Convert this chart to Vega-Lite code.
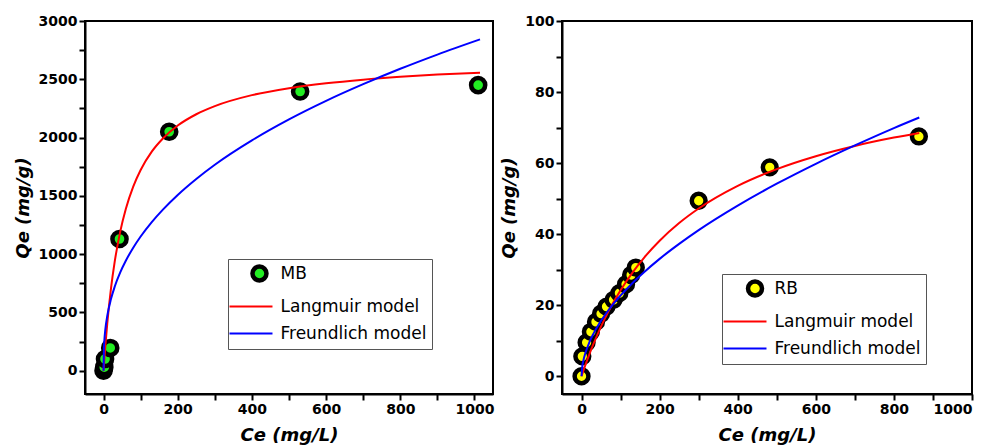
{
  "$schema": "https://vega.github.io/schema/vega-lite/v6.json",
  "padding": {"left": 13, "top": 13, "right": 0, "bottom": 0},
  "bounds": "flush",
  "spacing": 69,
  "background": "white",
  "config": {
    "view": {"stroke": "black", "strokeWidth": 2},
    "axis": {
      "domainColor": "black", "domainWidth": 2, "tickColor": "black", "tickWidth": 2, "tickSize": 6, "format": "d",
      "grid": false, "labelFont": "DejaVu Sans", "labelFontSize": 14, "labelFontWeight": "bold", "labelColor": "black",
      "labelPadding": 2, "titleFont": "DejaVu Sans", "titleFontSize": 18, "titleFontWeight": "bold", "titleFontStyle": "italic", "titleColor": "black"
    },
    "legend": {
      "orient": "none", "title": null, "strokeColor": "#555", "fillColor": "white", "padding": 5,
      "labelFont": "DejaVu Sans", "labelFontSize": 17, "labelColor": "black", "symbolSize": 196, "symbolStrokeWidth": 4.5,
      "symbolOffset": 8.5, "labelOffset": 20, "rowPadding": 6, "symbolOpacity": 1
    }
  },
  "datasets": {
    "empty": [],
    "mb_points": [
      {"Ce": 0, "Qe": 0},
      {"Ce": 2, "Qe": 30},
      {"Ce": 4, "Qe": 100},
      {"Ce": 18, "Qe": 195},
      {"Ce": 43, "Qe": 1130},
      {"Ce": 177, "Qe": 2050},
      {"Ce": 530, "Qe": 2395},
      {"Ce": 1010, "Qe": 2450}
    ],
    "mb_fits": [
      {"Ce": 0, "Qe": 0, "series": "Langmuir model"},
      {"Ce": 2, "Qe": 92, "series": "Langmuir model"},
      {"Ce": 5, "Qe": 218, "series": "Langmuir model"},
      {"Ce": 10, "Qe": 404, "series": "Langmuir model"},
      {"Ce": 20, "Qe": 703, "series": "Langmuir model"},
      {"Ce": 30, "Qe": 933, "series": "Langmuir model"},
      {"Ce": 45, "Qe": 1193, "series": "Langmuir model"},
      {"Ce": 60, "Qe": 1387, "series": "Langmuir model"},
      {"Ce": 80, "Qe": 1579, "series": "Langmuir model"},
      {"Ce": 100, "Qe": 1722, "series": "Langmuir model"},
      {"Ce": 130, "Qe": 1879, "series": "Langmuir model"},
      {"Ce": 160, "Qe": 1992, "series": "Langmuir model"},
      {"Ce": 200, "Qe": 2103, "series": "Langmuir model"},
      {"Ce": 250, "Qe": 2200, "series": "Langmuir model"},
      {"Ce": 300, "Qe": 2270, "series": "Langmuir model"},
      {"Ce": 400, "Qe": 2364, "series": "Langmuir model"},
      {"Ce": 500, "Qe": 2424, "series": "Langmuir model"},
      {"Ce": 600, "Qe": 2466, "series": "Langmuir model"},
      {"Ce": 700, "Qe": 2497, "series": "Langmuir model"},
      {"Ce": 800, "Qe": 2521, "series": "Langmuir model"},
      {"Ce": 900, "Qe": 2540, "series": "Langmuir model"},
      {"Ce": 1015, "Qe": 2556, "series": "Langmuir model"},
      {"Ce": 0, "Qe": 0, "series": "Freundlich model"},
      {"Ce": 1, "Qe": 191, "series": "Freundlich model"},
      {"Ce": 2, "Qe": 250, "series": "Freundlich model"},
      {"Ce": 5, "Qe": 358, "series": "Freundlich model"},
      {"Ce": 10, "Qe": 469, "series": "Freundlich model"},
      {"Ce": 20, "Qe": 614, "series": "Freundlich model"},
      {"Ce": 30, "Qe": 720, "series": "Freundlich model"},
      {"Ce": 45, "Qe": 843, "series": "Freundlich model"},
      {"Ce": 60, "Qe": 943, "series": "Freundlich model"},
      {"Ce": 80, "Qe": 1055, "series": "Freundlich model"},
      {"Ce": 100, "Qe": 1151, "series": "Freundlich model"},
      {"Ce": 130, "Qe": 1275, "series": "Freundlich model"},
      {"Ce": 160, "Qe": 1382, "series": "Freundlich model"},
      {"Ce": 200, "Qe": 1508, "series": "Freundlich model"},
      {"Ce": 250, "Qe": 1645, "series": "Freundlich model"},
      {"Ce": 300, "Qe": 1767, "series": "Freundlich model"},
      {"Ce": 400, "Qe": 1976, "series": "Freundlich model"},
      {"Ce": 500, "Qe": 2156, "series": "Freundlich model"},
      {"Ce": 600, "Qe": 2315, "series": "Freundlich model"},
      {"Ce": 700, "Qe": 2458, "series": "Freundlich model"},
      {"Ce": 800, "Qe": 2590, "series": "Freundlich model"},
      {"Ce": 900, "Qe": 2712, "series": "Freundlich model"},
      {"Ce": 1015, "Qe": 2842, "series": "Freundlich model"}
    ],
    "rb_points": [
      {"Ce": 0, "Qe": 0},
      {"Ce": 2, "Qe": 5.6},
      {"Ce": 13, "Qe": 9.5},
      {"Ce": 24, "Qe": 12.5},
      {"Ce": 37, "Qe": 15.3},
      {"Ce": 50, "Qe": 17.6},
      {"Ce": 64, "Qe": 19.6},
      {"Ce": 82, "Qe": 21.5},
      {"Ce": 97, "Qe": 23.4},
      {"Ce": 114, "Qe": 25.9},
      {"Ce": 127, "Qe": 28.5},
      {"Ce": 139, "Qe": 30.6},
      {"Ce": 300, "Qe": 49.4},
      {"Ce": 482, "Qe": 58.8},
      {"Ce": 864, "Qe": 67.5}
    ],
    "rb_fits": [
      {"Ce": 0, "Qe": 0, "series": "Langmuir model"},
      {"Ce": 5, "Qe": 1.63, "series": "Langmuir model"},
      {"Ce": 10, "Qe": 3.19, "series": "Langmuir model"},
      {"Ce": 20, "Qe": 6.17, "series": "Langmuir model"},
      {"Ce": 30, "Qe": 8.95, "series": "Langmuir model"},
      {"Ce": 45, "Qe": 12.79, "series": "Langmuir model"},
      {"Ce": 60, "Qe": 16.28, "series": "Langmuir model"},
      {"Ce": 80, "Qe": 20.47, "series": "Langmuir model"},
      {"Ce": 100, "Qe": 24.21, "series": "Langmuir model"},
      {"Ce": 130, "Qe": 29.12, "series": "Langmuir model"},
      {"Ce": 160, "Qe": 33.35, "series": "Langmuir model"},
      {"Ce": 200, "Qe": 38.16, "series": "Langmuir model"},
      {"Ce": 250, "Qe": 43.13, "series": "Langmuir model"},
      {"Ce": 300, "Qe": 47.22, "series": "Langmuir model"},
      {"Ce": 400, "Qe": 53.59, "series": "Langmuir model"},
      {"Ce": 500, "Qe": 58.31, "series": "Langmuir model"},
      {"Ce": 600, "Qe": 61.95, "series": "Langmuir model"},
      {"Ce": 700, "Qe": 64.83, "series": "Langmuir model"},
      {"Ce": 800, "Qe": 67.18, "series": "Langmuir model"},
      {"Ce": 865, "Qe": 68.48, "series": "Langmuir model"},
      {"Ce": 0, "Qe": 0, "series": "Freundlich model"},
      {"Ce": 2, "Qe": 2.75, "series": "Freundlich model"},
      {"Ce": 5, "Qe": 4.51, "series": "Freundlich model"},
      {"Ce": 10, "Qe": 6.55, "series": "Freundlich model"},
      {"Ce": 20, "Qe": 9.53, "series": "Freundlich model"},
      {"Ce": 30, "Qe": 11.86, "series": "Freundlich model"},
      {"Ce": 45, "Qe": 14.77, "series": "Freundlich model"},
      {"Ce": 60, "Qe": 17.24, "series": "Freundlich model"},
      {"Ce": 80, "Qe": 20.14, "series": "Freundlich model"},
      {"Ce": 100, "Qe": 22.72, "series": "Freundlich model"},
      {"Ce": 130, "Qe": 26.19, "series": "Freundlich model"},
      {"Ce": 160, "Qe": 29.28, "series": "Freundlich model"},
      {"Ce": 200, "Qe": 33.04, "series": "Freundlich model"},
      {"Ce": 250, "Qe": 37.25, "series": "Freundlich model"},
      {"Ce": 300, "Qe": 41.13, "series": "Freundlich model"},
      {"Ce": 400, "Qe": 48.03, "series": "Freundlich model"},
      {"Ce": 500, "Qe": 54.19, "series": "Freundlich model"},
      {"Ce": 600, "Qe": 59.8, "series": "Freundlich model"},
      {"Ce": 700, "Qe": 64.98, "series": "Freundlich model"},
      {"Ce": 800, "Qe": 69.86, "series": "Freundlich model"},
      {"Ce": 865, "Qe": 72.84, "series": "Freundlich model"}
    ],
    "label_a": [{"panel": "a"}],
    "label_b": [{"panel": "b"}]
  },
  "hconcat": [
    {
      "width": 408,
      "height": 373,
      "encoding": {
        "x": {"field": "Ce", "type": "quantitative", "scale": {"domain": [-50, 1050], "nice": false, "zero": false},
          "axis": {"title": "Ce (mg/L)", "values": [0,100,200,300,400,500,600,700,800,900,1000],
            "labelExpr": "datum.value % 200 === 0 ? datum.label : ''", "titlePadding": 10,
            "encode": {"ticks": {"y2": {"condition": {"test": "datum.value % 200 === 0", "value": 6}, "value": 3}}}}},
        "y": {"field": "Qe", "type": "quantitative", "scale": {"domain": [-200, 3000], "nice": false, "zero": false},
          "axis": {"title": "Qe (mg/g)", "values": [0,250,500,750,1000,1250,1500,1750,2000,2250,2500,2750,3000],
            "labelExpr": "datum.value % 500 === 0 ? datum.label : ''", "titlePadding": 6,
            "encode": {"ticks": {"x2": {"condition": {"test": "datum.value % 500 === 0", "value": -6}, "value": -3}}}}}
      },
      "layer": [
        {
          "data": {"name": "empty"},
          "mark": {"type": "point", "opacity": 1},
          "encoding": {
            "fill": {"field": "series", "type": "nominal",
              "scale": {"domain": ["MB", "Langmuir model", "Freundlich model"], "range": ["#22ee22", "#ff0000", "#0000ff"]},
              "legend": {"legendX": 143, "legendY": 238}},
            "stroke": {"field": "series", "type": "nominal",
              "scale": {"domain": ["MB", "Langmuir model", "Freundlich model"], "range": ["black", "transparent", "transparent"]},
              "legend": {"legendX": 143, "legendY": 238}},
            "shape": {"field": "series", "type": "nominal",
              "scale": {"domain": ["MB", "Langmuir model", "Freundlich model"], "range": ["M0.21,0A1,1,0,1,1,2.21,0A1,1,0,1,1,0.21,0Z", "M-3.07,-0.143H3.07V0.143H-3.07Z", "M-3.07,-0.143H3.07V0.143H-3.07Z"]},
              "legend": {"legendX": 143, "legendY": 238}}
          }
        },
        {
          "data": {"name": "mb_points"},
          "mark": {"type": "circle", "fill": "#22ee22", "stroke": "black", "strokeWidth": 4.5, "size": 200, "opacity": 1}
        },
        {
          "data": {"name": "mb_fits"},
          "mark": {"type": "line", "strokeWidth": 2, "interpolate": "monotone"},
          "encoding": {
            "color": {"field": "series", "type": "nominal", "legend": null,
              "scale": {"domain": ["Langmuir model", "Freundlich model"], "range": ["#ff0000", "#0000ff"]}},
            "order": {"field": "Ce", "type": "quantitative"}
          }
        },
        {
          "data": {"name": "label_a"},
          "mark": {"type": "rect", "color": "#0000ff"},
          "encoding": {
            "x": {"datum": -50}, "x2": {"datum": 55},
            "y": {"datum": 3000}, "y2": {"datum": 2684}
          }
        },
        {
          "data": {"name": "label_a"},
          "mark": {"type": "text", "color": "white", "font": "DejaVu Sans", "fontSize": 30, "fontWeight": "bold", "align": "center", "baseline": "middle"},
          "encoding": {
            "x": {"datum": 3}, "y": {"datum": 2850},
            "text": {"field": "panel"}
          }
        }
      ]
    },
    {
      "width": 410,
      "height": 373,
      "encoding": {
        "x": {"field": "Ce", "type": "quantitative", "scale": {"domain": [-50, 1000], "nice": false, "zero": false},
          "axis": {"title": "Ce (mg/L)", "values": [0,100,200,300,400,500,600,700,800,900,1000],
            "labelExpr": "datum.value % 200 === 0 ? datum.label : ''", "titlePadding": 10,
            "encode": {"ticks": {"y2": {"condition": {"test": "datum.value % 200 === 0", "value": 6}, "value": 3}}}}},
        "y": {"field": "Qe", "type": "quantitative", "scale": {"domain": [-5, 100], "nice": false, "zero": false},
          "axis": {"title": "Qe (mg/g)", "values": [0,10,20,30,40,50,60,70,80,90,100],
            "labelExpr": "datum.value % 20 === 0 ? datum.label : ''", "titlePadding": 6,
            "encode": {"ticks": {"x2": {"condition": {"test": "datum.value % 20 === 0", "value": -6}, "value": -3}}}}}
      },
      "layer": [
        {
          "data": {"name": "empty"},
          "mark": {"type": "point", "opacity": 1},
          "encoding": {
            "fill": {"field": "series", "type": "nominal",
              "scale": {"domain": ["RB", "Langmuir model", "Freundlich model"], "range": ["#ffff00", "#ff0000", "#0000ff"]},
              "legend": {"legendX": 160, "legendY": 253}},
            "stroke": {"field": "series", "type": "nominal",
              "scale": {"domain": ["RB", "Langmuir model", "Freundlich model"], "range": ["black", "transparent", "transparent"]},
              "legend": {"legendX": 160, "legendY": 253}},
            "shape": {"field": "series", "type": "nominal",
              "scale": {"domain": ["RB", "Langmuir model", "Freundlich model"], "range": ["M0.43,0A1,1,0,1,1,2.43,0A1,1,0,1,1,0.43,0Z", "M-3.07,-0.143H3.07V0.143H-3.07Z", "M-3.07,-0.143H3.07V0.143H-3.07Z"]},
              "legend": {"legendX": 160, "legendY": 253}}
          }
        },
        {
          "data": {"name": "rb_points"},
          "mark": {"type": "circle", "fill": "#ffff00", "stroke": "black", "strokeWidth": 4.5, "size": 190, "opacity": 1}
        },
        {
          "data": {"name": "rb_fits"},
          "mark": {"type": "line", "strokeWidth": 2, "interpolate": "monotone"},
          "encoding": {
            "color": {"field": "series", "type": "nominal", "legend": null,
              "scale": {"domain": ["Langmuir model", "Freundlich model"], "range": ["#ff0000", "#0000ff"]}},
            "order": {"field": "Ce", "type": "quantitative"}
          }
        },
        {
          "data": {"name": "label_b"},
          "mark": {"type": "rect", "color": "#0000ff"},
          "encoding": {
            "x": {"datum": -47}, "x2": {"datum": 59},
            "y": {"datum": 100}, "y2": {"datum": 89.6}
          }
        },
        {
          "data": {"name": "label_b"},
          "mark": {"type": "text", "color": "white", "font": "DejaVu Sans", "fontSize": 30, "fontWeight": "bold", "align": "center", "baseline": "middle"},
          "encoding": {
            "x": {"datum": 6}, "y": {"datum": 94.8},
            "text": {"field": "panel"}
          }
        }
      ]
    }
  ],
  "resolve": {"scale": {"color": "independent", "fill": "independent", "stroke": "independent", "shape": "independent", "x": "independent", "y": "independent"},
    "legend": {"color": "independent", "fill": "independent", "stroke": "independent", "shape": "independent"}}
}
